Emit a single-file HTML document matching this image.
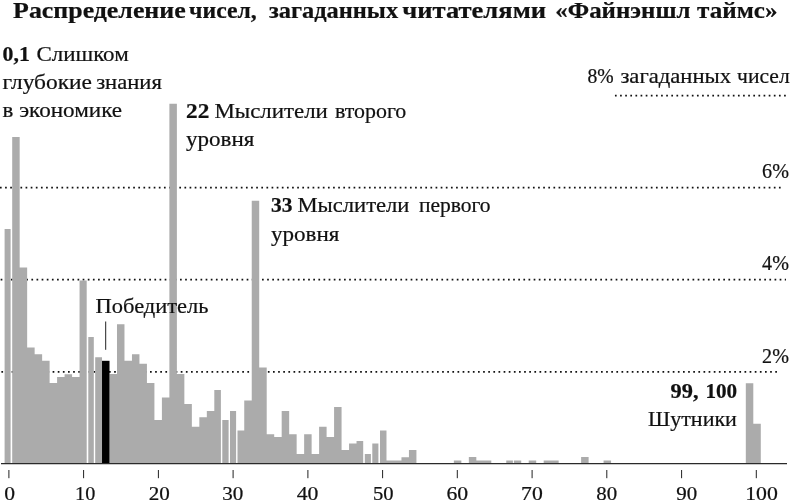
<!DOCTYPE html>
<html lang="ru"><head><meta charset="utf-8"><title>Распределение чисел</title>
<style>
html,body{margin:0;padding:0;background:#fff;}
body{width:790px;height:501px;overflow:hidden;}
svg{display:block;font-family:"Liberation Serif",serif;fill:#111;}
text{stroke:#111;stroke-width:0.22px;}
.b{font-weight:bold;}
</style></head><body>
<svg width="790" height="501" viewBox="0 0 790 501">
<rect width="790" height="501" fill="#fff"/>
<g id="dots">
<line x1="614.95" y1="95.65" x2="786.5" y2="95.65" stroke="#111" stroke-width="1.7" stroke-dasharray="1.7 3.425"/>
<line x1="-0.05" y1="187.7" x2="781" y2="187.7" stroke="#111" stroke-width="1.7" stroke-dasharray="1.7 3.425"/>
<line x1="0.65" y1="279.7" x2="786" y2="279.7" stroke="#111" stroke-width="1.7" stroke-dasharray="1.7 3.425"/>
<line x1="-3.75" y1="371.9" x2="777.2" y2="371.9" stroke="#111" stroke-width="1.7" stroke-dasharray="1.7 3.425"/>
</g>
<g id="bars" shape-rendering="auto">
<path fill="#ababab" d="M4.60 463.5V229.0H10.60V463.5Z M12.20 463.5V136.9H19.67V267.4H27.16V347.6H34.64V354.3H42.13V360.8H49.62V383.0H57.10V377.0H64.59V374.3H72.07V377.0H79.56V280.6H86.70V463.5Z M88.30 463.5V337.0H93.80V463.5Z M95.20 463.5V357.3H102.02V463.5Z M109.50 463.5V374.0H116.99V324.3H124.48V360.8H131.96V354.3H139.45V363.8H146.93V383.1H154.42V420.1H161.91V397.4H169.39V103.8H176.88V374.1H184.36V404.1H191.85V426.8H199.34V417.3H206.82V411.0H214.31V390.1H220.90V463.5Z M222.30 463.5V420.1H228.60V463.5Z M230.00 463.5V411.0H236.10V463.5Z M237.50 463.5V430.4H244.25V400.4H251.74V200.7H259.22V367.4H266.71V434.3H274.20V436.9H281.68V411.0H289.17V434.3H296.65V454.1H304.14V434.3H311.63V454.1H319.11V426.8H326.60V436.9H334.08V407.1H341.57V450.1H349.06V443.6H356.54V441.0H363.20V463.5Z M364.80 463.5V454.1H370.90V463.5Z M372.30 463.5V443.6H378.40V463.5Z M380.00 463.5V430.4H386.49V460.6H393.97V460.6H401.46V457.2H408.94V450.1H416.43V463.5Z M453.86 463.5V460.6H461.35V463.5Z M468.83 463.5V456.9H476.32V460.6H483.80V460.6H491.29V463.5Z M506.26 463.5V460.6H512.90V463.5Z M513.90 463.5V460.6H521.23V463.5Z M528.72 463.5V460.6H536.21V463.5Z M543.69 463.5V460.6H551.18V460.6H558.66V463.5Z M581.12 463.5V456.9H588.61V463.5Z M603.58 463.5V460.4H611.07V463.5Z M745.81 463.5V383.2H753.30V423.7H760.79V463.5Z"/>
<rect x="102.02" y="360.8" width="7.49" height="102.7" fill="#000"/>
</g>
<line x1="1" y1="463.55" x2="787" y2="463.55" stroke="#2a2a2a" stroke-width="1.25"/>
<g id="ticks">
<line x1="8.9" y1="470" x2="8.9" y2="478.2" stroke="#222" stroke-width="1"/>
<line x1="83.6" y1="470" x2="83.6" y2="478.2" stroke="#222" stroke-width="1"/>
<line x1="158.4" y1="470" x2="158.4" y2="478.2" stroke="#222" stroke-width="1"/>
<line x1="233.1" y1="470" x2="233.1" y2="478.2" stroke="#222" stroke-width="1"/>
<line x1="307.9" y1="470" x2="307.9" y2="478.2" stroke="#222" stroke-width="1"/>
<line x1="382.6" y1="470" x2="382.6" y2="478.2" stroke="#222" stroke-width="1"/>
<line x1="457.3" y1="470" x2="457.3" y2="478.2" stroke="#222" stroke-width="1"/>
<line x1="532.1" y1="470" x2="532.1" y2="478.2" stroke="#222" stroke-width="1"/>
<line x1="606.8" y1="470" x2="606.8" y2="478.2" stroke="#222" stroke-width="1"/>
<line x1="681.6" y1="470" x2="681.6" y2="478.2" stroke="#222" stroke-width="1"/>
<line x1="756.3" y1="470" x2="756.3" y2="478.2" stroke="#222" stroke-width="1"/>
</g>
<g id="xlabels">
<text x="4.2" y="499.55" font-size="19.5" textLength="10.8" lengthAdjust="spacingAndGlyphs">0</text>
<text x="75.1" y="499.55" font-size="19.5" textLength="20.2" lengthAdjust="spacingAndGlyphs">10</text>
<text x="148.7" y="499.55" font-size="19.5" textLength="21.1" lengthAdjust="spacingAndGlyphs">20</text>
<text x="222.2" y="499.55" font-size="19.5" textLength="21.1" lengthAdjust="spacingAndGlyphs">30</text>
<text x="296.7" y="499.55" font-size="19.5" textLength="21.7" lengthAdjust="spacingAndGlyphs">40</text>
<text x="373.0" y="499.55" font-size="19.5" textLength="20.6" lengthAdjust="spacingAndGlyphs">50</text>
<text x="446.4" y="499.55" font-size="19.5" textLength="21.7" lengthAdjust="spacingAndGlyphs">60</text>
<text x="521.1" y="499.55" font-size="19.5" textLength="21.7" lengthAdjust="spacingAndGlyphs">70</text>
<text x="596.2" y="499.55" font-size="19.5" textLength="20.9" lengthAdjust="spacingAndGlyphs">80</text>
<text x="676.2" y="499.55" font-size="19.5" textLength="20.9" lengthAdjust="spacingAndGlyphs">90</text>
<text x="745.2" y="499.55" font-size="19.5" textLength="32.7" lengthAdjust="spacingAndGlyphs">100</text>
</g>
<line x1="105.7" y1="321.5" x2="105.7" y2="349.8" stroke="#222" stroke-width="1"/>
<g id="txt" font-size="19">
<text id="t1" y="17.8" font-size="22.8"><tspan x="13.1" textLength="172.6" lengthAdjust="spacingAndGlyphs" class="b">Распределение</tspan> <tspan x="189.1" textLength="67.7" lengthAdjust="spacingAndGlyphs" class="b">чисел,</tspan> <tspan x="268.9" textLength="129.2" lengthAdjust="spacingAndGlyphs" class="b">загаданных</tspan> <tspan x="402.2" textLength="143.9" lengthAdjust="spacingAndGlyphs" class="b">читателями</tspan> <tspan x="555.3" textLength="135.1" lengthAdjust="spacingAndGlyphs" class="b">«Файнэншл</tspan> <tspan x="697.1" textLength="80.4" lengthAdjust="spacingAndGlyphs" class="b">таймс»</tspan></text>
<text id="t2" y="61.1" font-size="21"><tspan x="2.6" textLength="27.2" lengthAdjust="spacingAndGlyphs" class="b">0,1</tspan> <tspan x="36.4" textLength="92.3" lengthAdjust="spacingAndGlyphs">Слишком</tspan></text>
<text id="t3" y="89.1" font-size="21"><tspan x="2.6" textLength="89.4" lengthAdjust="spacingAndGlyphs">глубокие</tspan> <tspan x="96.2" textLength="65.7" lengthAdjust="spacingAndGlyphs">знания</tspan></text>
<text id="t4" y="116.5" font-size="21"><tspan x="2.6" textLength="10.8" lengthAdjust="spacingAndGlyphs">в</tspan> <tspan x="19.2" textLength="102.9" lengthAdjust="spacingAndGlyphs">экономике</tspan></text>
<text id="t5" y="118.1" font-size="21"><tspan x="186.1" textLength="23.3" lengthAdjust="spacingAndGlyphs" class="b">22</tspan> <tspan x="214.4" textLength="113.5" lengthAdjust="spacingAndGlyphs">Мыслители</tspan> <tspan x="335.0" textLength="71.3" lengthAdjust="spacingAndGlyphs">второго</tspan></text>
<text id="t6" y="145.7" font-size="21"><tspan x="186.1" textLength="68.3" lengthAdjust="spacingAndGlyphs">уровня</tspan></text>
<text id="t7" y="212.2" font-size="21"><tspan x="271.0" textLength="21.4" lengthAdjust="spacingAndGlyphs" class="b">33</tspan> <tspan x="297.4" textLength="112.1" lengthAdjust="spacingAndGlyphs">Мыслители</tspan> <tspan x="419.0" textLength="71.6" lengthAdjust="spacingAndGlyphs">первого</tspan></text>
<text id="t8" y="240.8" font-size="21"><tspan x="271.0" textLength="68.5" lengthAdjust="spacingAndGlyphs">уровня</tspan></text>
<text id="t9" y="312.7" font-size="21"><tspan x="95.6" textLength="112.9" lengthAdjust="spacingAndGlyphs">Победитель</tspan></text>
<text id="t10" y="82.7" font-size="21"><tspan x="587.5" textLength="26.2" lengthAdjust="spacingAndGlyphs">8%</tspan> <tspan x="620.4" textLength="110.8" lengthAdjust="spacingAndGlyphs">загаданных</tspan> <tspan x="737.1" textLength="52.6" lengthAdjust="spacingAndGlyphs">чисел</tspan></text>
<text id="t11" y="177.7" font-size="21"><tspan x="762.1" textLength="26.8" lengthAdjust="spacingAndGlyphs">6%</tspan></text>
<text id="t12" y="270.3" font-size="21"><tspan x="762.1" textLength="26.8" lengthAdjust="spacingAndGlyphs">4%</tspan></text>
<text id="t13" y="362.7" font-size="21"><tspan x="762.1" textLength="26.8" lengthAdjust="spacingAndGlyphs">2%</tspan></text>
<text id="t14" y="397.7" font-size="21"><tspan x="670.5" textLength="28.0" lengthAdjust="spacingAndGlyphs" class="b">99,</tspan> <tspan x="705.4" textLength="31.7" lengthAdjust="spacingAndGlyphs" class="b">100</tspan></text>
<text id="t15" y="425.5" font-size="21"><tspan x="648.0" textLength="88.9" lengthAdjust="spacingAndGlyphs">Шутники</tspan></text>
</g>
</svg>
</body></html>
